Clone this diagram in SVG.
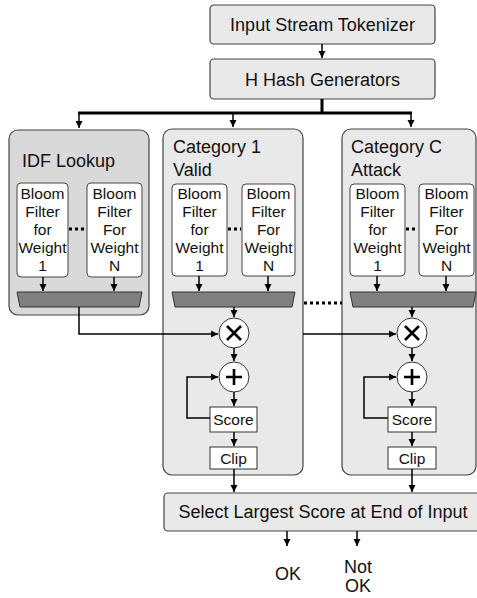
<svg xmlns="http://www.w3.org/2000/svg" width="477" height="598" viewBox="0 0 477 598">
<defs>
<marker id="ah" markerWidth="8" markerHeight="8" refX="7" refY="4" orient="auto" markerUnits="userSpaceOnUse">
<path d="M0,0.5 L7,4 L0,7.5 Z" fill="#000"/>
</marker>
<style>
text{font-family:"Liberation Sans",Arial,sans-serif;fill:#111}
.box{fill:#e9e9e9;stroke:#444;stroke-width:1.2}
.idf{fill:#d9d9d9;stroke:#444;stroke-width:1.2}
.bf{fill:#fff;stroke:#444;stroke-width:1}
.wb{fill:#fff;stroke:#333;stroke-width:1}
.mux{fill:#808080;stroke:#333;stroke-width:1}
.cir{fill:#fff;stroke:#333;stroke-width:1}
.ln{fill:none;stroke:#000;stroke-width:1.5}
.thk{fill:none;stroke:#000;stroke-width:3}
.dot{fill:none;stroke:#000;stroke-width:3;stroke-dasharray:3,3}
.t18{font-size:18px}
.t15{font-size:15.5px}
.t16{font-size:15.5px}
.c{text-anchor:middle}
.op{fill:none;stroke:#000;stroke-width:2.6}
</style>
</defs>

<g id="tokenizer">
<rect class="box" x="210" y="5" width="225" height="39" rx="4"/>
<text class="t18 c" x="322.5" y="31">Input Stream Tokenizer</text>
</g>
<g id="hash">
<rect class="box" x="210" y="59" width="225" height="40" rx="4"/>
<text class="t18 c" x="322.5" y="85.5">H Hash Generators</text>
</g>

<g id="idf">
<rect class="idf" x="9" y="130" width="140" height="185" rx="9"/>
<text class="t18" x="22" y="167">IDF Lookup</text>
<g id="idf-bf1">
<rect class="bf" x="17" y="183" width="51" height="94" rx="4"/>
<text class="t16 c" x="42.5"><tspan x="42.5" y="199">Bloom</tspan><tspan x="42.5" y="217">Filter</tspan><tspan x="42.5" y="235">for</tspan><tspan x="42.5" y="253">Weight</tspan><tspan x="42.5" y="271">1</tspan></text>
</g>
<g id="idf-bfn">
<rect class="bf" x="87" y="183" width="55" height="94" rx="4"/>
<text class="t16 c" x="114.5"><tspan x="114.5" y="199">Bloom</tspan><tspan x="114.5" y="217">Filter</tspan><tspan x="114.5" y="235">For</tspan><tspan x="114.5" y="253">Weight</tspan><tspan x="114.5" y="271">N</tspan></text>
</g>
<path class="mux" d="M17,292 L142,292 L139,307 L20,307 Z"/>
</g>

<g id="cat1">
<rect class="box" x="163" y="129" width="140" height="346" rx="9"/>
<text class="t18" x="173" y="153">Category 1</text>
<text class="t18" x="173" y="176">Valid</text>
<g id="cat1-bf1">
<rect class="bf" x="172" y="184" width="55" height="92" rx="4"/>
<text class="t16 c"><tspan x="199.5" y="199">Bloom</tspan><tspan x="199.5" y="217">Filter</tspan><tspan x="199.5" y="235">for</tspan><tspan x="199.5" y="253">Weight</tspan><tspan x="199.5" y="271">1</tspan></text>
</g>
<g id="cat1-bfn">
<rect class="bf" x="242" y="184" width="53" height="92" rx="4"/>
<text class="t16 c"><tspan x="268.5" y="199">Bloom</tspan><tspan x="268.5" y="217">Filter</tspan><tspan x="268.5" y="235">For</tspan><tspan x="268.5" y="253">Weight</tspan><tspan x="268.5" y="271">N</tspan></text>
</g>
<path class="mux" d="M172,292 L295,292 L292,307 L175,307 Z"/>
<g id="cat1-mul">
<circle class="cir" cx="234" cy="333" r="15"/>
<path class="op" d="M227,326 L241,340 M241,326 L227,340"/>
</g>
<g id="cat1-add">
<circle class="cir" cx="234" cy="377" r="15"/>
<path class="op" d="M226,377 L242,377 M234,369 L234,385"/>
</g>
<g id="cat1-score">
<rect class="wb" x="210" y="407" width="47" height="25"/>
<text class="t15 c" x="233.5" y="425">Score</text>
</g>
<g id="cat1-clip">
<rect class="wb" x="210" y="447" width="47" height="22"/>
<text class="t15 c" x="233.5" y="463.5">Clip</text>
</g>
</g>

<g id="catC">
<rect class="box" x="342" y="129" width="134" height="346" rx="9"/>
<text class="t18" x="351" y="153">Category C</text>
<text class="t18" x="351" y="176">Attack</text>
<g id="catC-bf1">
<rect class="bf" x="350" y="184" width="55" height="92" rx="4"/>
<text class="t16 c"><tspan x="377.5" y="199">Bloom</tspan><tspan x="377.5" y="217">Filter</tspan><tspan x="377.5" y="235">for</tspan><tspan x="377.5" y="253">Weight</tspan><tspan x="377.5" y="271">1</tspan></text>
</g>
<g id="catC-bfn">
<rect class="bf" x="419" y="184" width="55" height="92" rx="4"/>
<text class="t16 c"><tspan x="446.5" y="199">Bloom</tspan><tspan x="446.5" y="217">Filter</tspan><tspan x="446.5" y="235">For</tspan><tspan x="446.5" y="253">Weight</tspan><tspan x="446.5" y="271">N</tspan></text>
</g>
<path class="mux" d="M350,292 L476,292 L473,307 L353,307 Z"/>
<g id="catC-mul">
<circle class="cir" cx="412" cy="333" r="15"/>
<path class="op" d="M405,326 L419,340 M419,326 L405,340"/>
</g>
<g id="catC-add">
<circle class="cir" cx="412" cy="377" r="15"/>
<path class="op" d="M404,377 L420,377 M412,369 L412,385"/>
</g>
<g id="catC-score">
<rect class="wb" x="388" y="407" width="48" height="25"/>
<text class="t15 c" x="412" y="425">Score</text>
</g>
<g id="catC-clip">
<rect class="wb" x="388" y="447" width="48" height="22"/>
<text class="t15 c" x="412" y="463.5">Clip</text>
</g>
</g>

<g id="select">
<rect class="box" x="164" y="493" width="318" height="38" rx="4"/>
<text class="t18 c" x="323" y="518">Select Largest Score at End of Input</text>
</g>

<g id="out-ok">
<text class="t18 c" x="288" y="580">OK</text>
</g>
<g id="out-notok">
<text class="t18 c" x="358" y="573">Not</text>
<text class="t18 c" x="358" y="592">OK</text>
</g>

<g id="connectors">
<path class="ln" d="M322,44 L322,58" marker-end="url(#ah)"/>
<path class="thk" d="M322,99 L322,113 M78,113 L412,113"/>
<path class="ln" d="M79,113 L79,128" marker-end="url(#ah)"/>
<path class="ln" d="M233,113 L233,127" marker-end="url(#ah)"/>
<path class="ln" d="M411,113 L411,127" marker-end="url(#ah)"/>
<path class="dot" d="M69,229 L86,229"/>
<path class="dot" d="M228,229 L241,229"/>
<path class="dot" d="M406,229 L418,229"/>
<path class="dot" d="M304,303 L342,303"/>
<path class="ln" d="M43,277 L43,291" marker-end="url(#ah)"/>
<path class="ln" d="M114,277 L114,291" marker-end="url(#ah)"/>
<path class="ln" d="M199,276 L199,291" marker-end="url(#ah)"/>
<path class="ln" d="M268,276 L268,291" marker-end="url(#ah)"/>
<path class="ln" d="M377,276 L377,291" marker-end="url(#ah)"/>
<path class="ln" d="M446,276 L446,291" marker-end="url(#ah)"/>
<path class="ln" d="M79,307 L79,334 L218,334" marker-end="url(#ah)"/>
<path class="ln" d="M303,334 L396,334" marker-end="url(#ah)"/>
<path class="ln" d="M234,307 L234,317" marker-end="url(#ah)"/>
<path class="ln" d="M234,348 L234,361" marker-end="url(#ah)"/>
<path class="ln" d="M234,392 L234,406" marker-end="url(#ah)"/>
<path class="ln" d="M210,418 L187,418 L187,377 L218,377" marker-end="url(#ah)"/>
<path class="ln" d="M234,432 L234,446" marker-end="url(#ah)"/>
<path class="ln" d="M234,469 L234,492" marker-end="url(#ah)"/>
<path class="ln" d="M412,307 L412,317" marker-end="url(#ah)"/>
<path class="ln" d="M412,348 L412,361" marker-end="url(#ah)"/>
<path class="ln" d="M412,392 L412,406" marker-end="url(#ah)"/>
<path class="ln" d="M388,418 L364,418 L364,377 L396,377" marker-end="url(#ah)"/>
<path class="ln" d="M412,432 L412,446" marker-end="url(#ah)"/>
<path class="ln" d="M412,469 L412,492" marker-end="url(#ah)"/>
<path class="ln" d="M287,531 L287,546" marker-end="url(#ah)"/>
<path class="ln" d="M357,531 L357,546" marker-end="url(#ah)"/>
</g>
</svg>
